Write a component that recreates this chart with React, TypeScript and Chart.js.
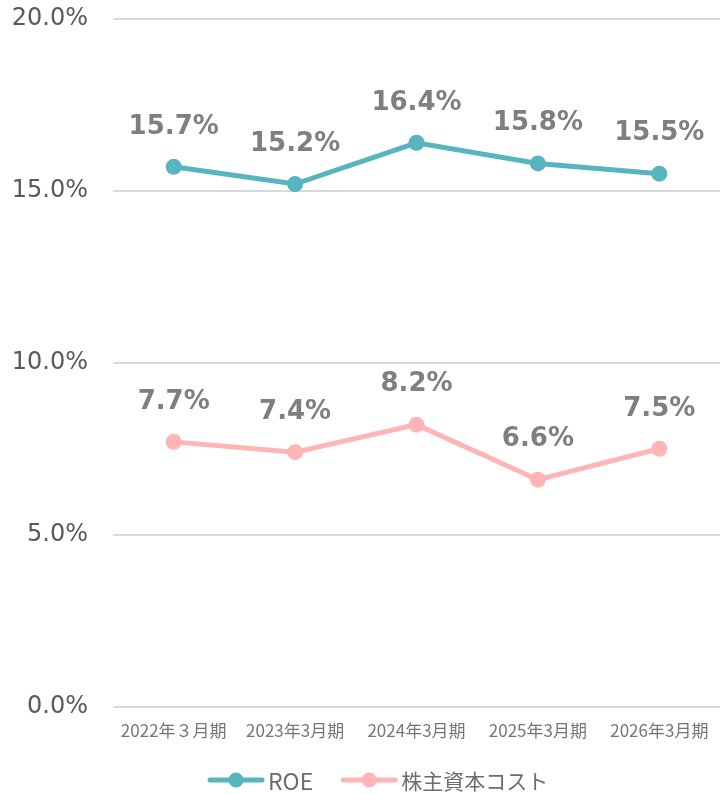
import React, { useEffect, useRef } from "react";
import { Chart, registerables } from "chart.js";

Chart.register(...registerables);

const categories = ["2022年３月期", "2023年3月期", "2024年3月期", "2025年3月期", "2026年3月期"];
const roeValues = [15.7, 15.2, 16.4, 15.8, 15.5];
const costValues = [7.7, 7.4, 8.2, 6.6, 7.5];
const seriesNames = ["ROE", "株主資本コスト"];
const seriesColors = ["#56B5BF", "#FFB5B5"];
const yTicks = [0, 5, 10, 15, 20];

const dataLabelPlugin = {
  id: "dataLabels",
  afterDatasetsDraw(chart: any) {
    const ctx = chart.ctx;
    ctx.save();
    ctx.font = "bold 26px 'DejaVu Sans'";
    ctx.fillStyle = "#7F7F7F";
    ctx.textAlign = "center";
    ctx.textBaseline = "middle";
    chart.data.datasets.forEach((ds: any, i: number) => {
      const meta = chart.getDatasetMeta(i);
      meta.data.forEach((el: any, j: number) => {
        ctx.fillText(ds.data[j].toFixed(1) + "%", el.x, el.y - 40);
      });
    });
    ctx.restore();
  },
};

const customLegendPlugin = {
  id: "customLegend",
  afterDraw(chart: any, _args: any, opts: any) {
    const ctx = chart.ctx;
    ctx.save();
    let x = opts.startX;
    const y = opts.y;
    ctx.textBaseline = "middle";
    ctx.textAlign = "left";
    chart.data.datasets.forEach((ds: any, i: number) => {
      ctx.strokeStyle = ds.borderColor;
      ctx.lineWidth = 5;
      ctx.lineCap = "round";
      ctx.beginPath();
      ctx.moveTo(x + 2, y);
      ctx.lineTo(x + 54, y);
      ctx.stroke();
      ctx.fillStyle = ds.borderColor;
      ctx.beginPath();
      ctx.arc(x + 28, y, 7.5, 0, Math.PI * 2);
      ctx.fill();
      ctx.fillStyle = "#6D6D6D";
      ctx.font = i === 0 ? "23px 'Noto Sans CJK JP'" : "21px 'Noto Sans CJK JP'";
      const tx = x + 60;
      ctx.fillText(ds.label, tx, y + 1);
      x = tx + ctx.measureText(ds.label).width + 28;
    });
    ctx.restore();
  },
};

export default function App() {
  const ref = useRef<HTMLCanvasElement | null>(null);
  useEffect(() => {
    if (!ref.current) return;
    const chart = new Chart(ref.current, {
      type: "line",
      data: {
        labels: categories,
        datasets: [
          {
            label: seriesNames[0],
            data: roeValues,
            borderColor: seriesColors[0],
            backgroundColor: seriesColors[0],
            borderWidth: 5,
            pointRadius: 8,
            pointBorderWidth: 0,
            pointBackgroundColor: seriesColors[0],
            tension: 0,
          },
          {
            label: seriesNames[1],
            data: costValues,
            borderColor: seriesColors[1],
            backgroundColor: seriesColors[1],
            borderWidth: 5,
            pointRadius: 8,
            pointBorderWidth: 0,
            pointBackgroundColor: seriesColors[1],
            tension: 0,
          },
        ],
      },
      options: {
        animation: false,
        responsive: false,
        layout: { padding: { top: 19, bottom: 39, left: 0, right: 0 } },
        plugins: {
          legend: { display: false },
          tooltip: { enabled: false },
          customLegend: { startX: 208, y: 780 },
        } as any,
        scales: {
          x: {
            offset: true,
            grid: { display: false, drawTicks: false },
            border: { display: false },
            ticks: {
              color: "#767676",
              font: { family: "'Noto Sans CJK JP'", size: 17 },
              padding: 14,
              maxRotation: 0,
              autoSkip: false,
            },
            afterFit: (scale: any) => {
              scale.paddingLeft = 0;
              scale.paddingRight = 0;
            },
          },
          y: {
            min: yTicks[0],
            max: yTicks[yTicks.length - 1],
            afterFit: (scale: any) => {
              scale.width = 113;
              scale.paddingTop = 0;
              scale.paddingBottom = 0;
            },
            afterBuildTicks: (scale: any) => {
              scale.ticks = yTicks.map((v) => ({ value: v }));
            },
            grid: { color: "#D9D9D9", lineWidth: 2, drawTicks: false },
            border: { display: false },
            ticks: {
              color: "#595959",
              font: { family: "'DejaVu Sans'", size: 24 },
              padding: 25,
              callback: (v: any) => Number(v).toFixed(1) + "%",
            },
          },
        },
      },
      plugins: [dataLabelPlugin, customLegendPlugin],
    });
    return () => chart.destroy();
  }, []);
  return (
    <div style={{ position: "absolute", left: 0, top: 0, width: 720, height: 794, overflow: "hidden", background: "#fff" }}>
      <canvas ref={ref} width={728} height={794} style={{ display: "block", width: 728, height: 794 }} />
    </div>
  );
}
